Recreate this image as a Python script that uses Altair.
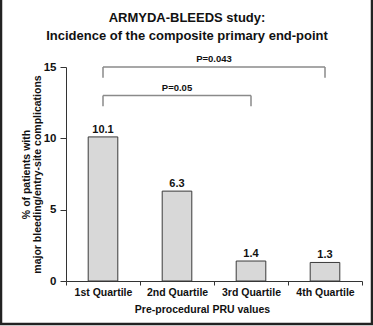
import altair as alt
import pandas as pd

# ---- data ----
quartiles = ["1st Quartile", "2nd Quartile", "3rd Quartile", "4th Quartile"]
incidence = [10.1, 6.3, 1.4, 1.3]

p_labels = ["P=0.043", "P=0.05"]
comp_from = [1, 1]          # quartile index (1-based)
comp_to = [4, 3]
bracket_level = [15.0, 13.0]

title_lines = ["ARMYDA-BLEEDS study:", "Incidence of the composite primary end-point"]
y_title = ["% of patients with", "major bleeding/entry-site complications"]
x_title = "Pre-procedural PRU values"
y_ticks = [0, 5, 10, 15]

FONT = "Liberation Sans"
W, H = 296, 214

bars_df = pd.DataFrame({"quartile": quartiles, "value": incidence})
comp_df = pd.DataFrame({"label": p_labels, "a": comp_from, "b": comp_to, "level": bracket_level})

xband = alt.X("quartile:N", sort=quartiles,
              scale=alt.Scale(paddingInner=0, paddingOuter=0),
              axis=alt.Axis(title=x_title, labelAngle=0, tickBand="extent",
                            labelFontSize=10.5, labelFontWeight="bold", labelPadding=2,
                            tickSize=4, titleFontSize=10.5, titleFontWeight="bold",
                            titlePadding=7, titleX=W / 2 - 12))
yq = alt.Y("value:Q", scale=alt.Scale(domain=[0, 15], nice=False),
           axis=alt.Axis(title=y_title, values=y_ticks, grid=False, tickSize=6,
                         labelPadding=4, labelFontSize=11.5, labelFontWeight="bold",
                         titleFontSize=10.5, titleFontWeight="bold", titleLineHeight=11,
                         titlePadding=1))

base = alt.Chart(bars_df)
bars = base.mark_bar(width=alt.RelativeBandSize(0.4), color="#d8d8d8",
                     stroke="#3a3a3a", strokeWidth=1).encode(x=xband, y=yq)
labels = base.mark_text(font=FONT, fontSize=11, fontWeight="bold", dy=-4,
                        baseline="alphabetic", color="#111").encode(
    x=alt.X("quartile:N", sort=quartiles), y="value:Q", text=alt.Text("value:Q", format=".1f"))
main = alt.layer(bars, labels)

xq_scale = alt.Scale(domain=[0, 4], nice=False, zero=False)
comp = alt.Chart(comp_df).transform_calculate(
    xa="datum.a - 0.5", xb="datum.b - 0.5", xm="(datum.a + datum.b) / 2 - 0.5",
    leg="datum.level - 0.75")
top_rule = comp.mark_rule(color="#8a8a8a", strokeWidth=1.5).encode(
    x=alt.X("xa:Q", scale=xq_scale, axis=None), x2="xb:Q",
    y=alt.Y("level:Q"))
leg_a = comp.mark_rule(color="#8a8a8a", strokeWidth=1.5).encode(
    x=alt.X("xa:Q", scale=xq_scale, axis=None), y="level:Q", y2="leg:Q")
leg_b = comp.mark_rule(color="#8a8a8a", strokeWidth=1.5).encode(
    x=alt.X("xb:Q", scale=xq_scale, axis=None), y="level:Q", y2="leg:Q")
p_text = comp.mark_text(font=FONT, fontSize=9.5, fontWeight="bold", dy=-5,
                        baseline="alphabetic", color="#111").encode(
    x=alt.X("xm:Q", scale=xq_scale, axis=None), y="level:Q", text="label:N")
brackets = alt.layer(top_rule, leg_a, leg_b, p_text)

frame = alt.Chart(alt.Data(values=[{}])).mark_rect(
    fillOpacity=0, stroke="#222", strokeWidth=2.5).encode(
    x=alt.value(-65), x2=alt.value(W + 10), y=alt.value(-72), y2=alt.value(H + 43))

chart = alt.layer(main, brackets, frame).resolve_scale(
    x="independent"
).properties(
    width=W, height=H,
    autosize=alt.AutoSizeParams(type="none"),
    padding={"left": 66, "top": 67, "right": 11, "bottom": 45},
    title=alt.TitleParams(title_lines, fontSize=13, fontWeight="bold", font=FONT,
                          lineHeight=18, anchor="middle", dx=-27, offset=0, dy=49,
                          color="#111"),
).configure(
    font=FONT, background="white"
).configure_view(stroke=None).configure_axis(
    labelFont=FONT, titleFont=FONT, domainColor="#333", tickColor="#333",
    labelColor="#111", titleColor="#111", domainWidth=1, tickWidth=1
)

chart.save("out.html", embed_options={"renderer": "svg", "actions": False})
